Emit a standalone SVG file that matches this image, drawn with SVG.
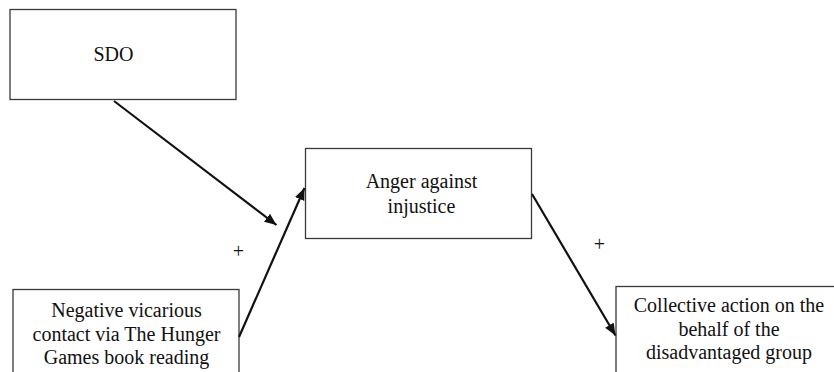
<svg xmlns="http://www.w3.org/2000/svg" width="834" height="372" viewBox="0 0 834 372">
<style>
  .box { fill: #fff; stroke: #3a3a3a; stroke-width: 1.3; }
  .lbl { font-family: "Liberation Serif", "Times New Roman", serif; font-size: 20px; fill: #111; text-anchor: middle; }
  .conn { stroke: #111; stroke-width: 2.2; fill: none; marker-end: url(#arr); }
</style>
<defs>
  <marker id="arr" markerUnits="userSpaceOnUse" markerWidth="14" markerHeight="12" refX="12" refY="5" orient="auto">
    <path d="M0,0 L12,5 L0,10 Z" fill="#111"/>
  </marker>
</defs>
<rect width="834" height="372" fill="#fff"/>
<g id="sdo">
  <rect class="box" x="10" y="9.5" width="226" height="90"/>
  <text class="lbl" x="113.5" y="61">SDO</text>
</g>
<g id="anger">
  <rect class="box" x="305.5" y="148.5" width="226" height="90"/>
  <text class="lbl" x="421.5" y="188">Anger against</text>
  <text class="lbl" x="421.5" y="212.5">injustice</text>
</g>
<g id="negative">
  <rect class="box" x="13" y="289.5" width="226" height="100"/>
  <text class="lbl" x="126.5" y="317">Negative vicarious</text>
  <text class="lbl" x="126.5" y="340.5">contact via The Hunger</text>
  <text class="lbl" x="126.5" y="364">Games book reading</text>
</g>
<g id="collective">
  <rect class="box" x="616" y="286.5" width="230" height="100"/>
  <text class="lbl" x="729" y="312">Collective action on the</text>
  <text class="lbl" x="729" y="335.5">behalf of the</text>
  <text class="lbl" x="729" y="359">disadvantaged group</text>
</g>
<g id="connectors">
  <line class="conn" x1="114" y1="101" x2="276.5" y2="225"/>
  <line class="conn" x1="239" y1="337" x2="304.5" y2="188"/>
  <line class="conn" x1="532" y1="194" x2="615.5" y2="335.5"/>
  <text class="lbl" x="238.5" y="257.5">+</text>
  <text class="lbl" x="599.5" y="250.5">+</text>
</g>
</svg>
